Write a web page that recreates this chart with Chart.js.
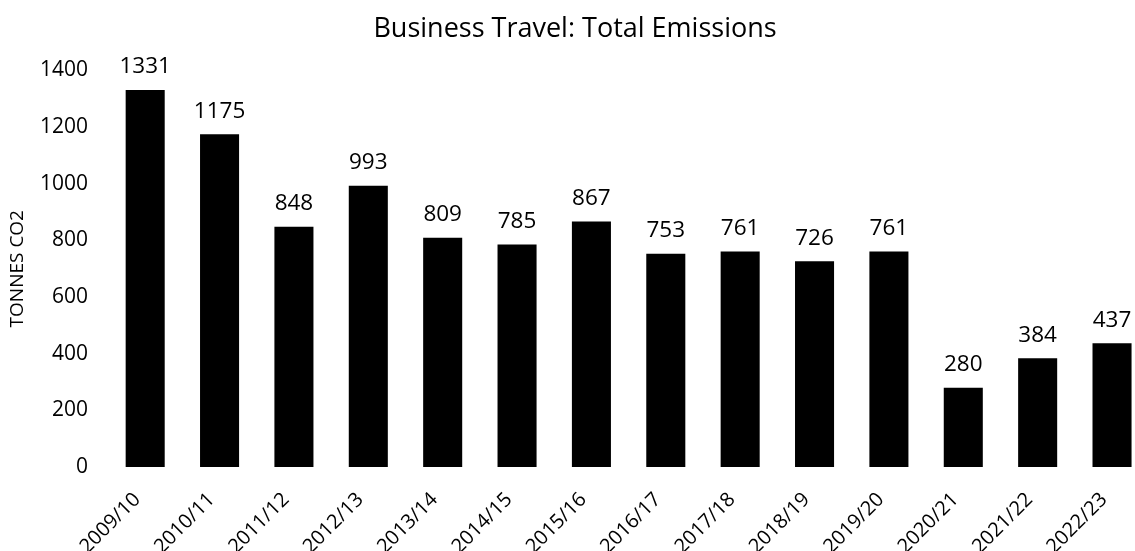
<!DOCTYPE html>
<html>
<head>
<meta charset="utf-8">
<script src="https://cdn.jsdelivr.net/npm/chart.js@4.4.1/dist/chart.umd.min.js"></script>
<style>
  html, body { margin: 0; padding: 0; background: #fff; overflow: hidden; }
  #wrap { width: 1150px; height: 551px; }
</style>
</head>
<body>
<div id="wrap"><canvas id="travelChart"></canvas></div>
<script>
// data
const years = ["2009/10", "2010/11", "2011/12", "2012/13", "2013/14", "2014/15", "2015/16",
  "2016/17", "2017/18", "2018/19", "2019/20", "2020/21", "2021/22", "2022/23"];
const emissions = [1331, 1175, 848, 993, 809, 785, 867, 753, 761, 726, 761, 280, 384, 437];
const yTicks = [0, 200, 400, 600, 800, 1000, 1200, 1400];

const fontFace = "'Open Sans', 'Noto Sans', sans-serif";

// value labels above each bar
const barLabels = {
  id: 'barLabels',
  afterDatasetsDraw(chart) {
    const ctx = chart.ctx;
    const meta = chart.getDatasetMeta(0);
    ctx.save();
    ctx.fillStyle = '#000';
    ctx.font = '22.5px ' + fontFace;
    ctx.textAlign = 'center';
    ctx.textBaseline = 'middle';
    meta.data.forEach((bar, i) => {
      ctx.fillText(String(emissions[i]), bar.x, bar.y - 23);
    });
    ctx.restore();
  }
};

const ctx = document.getElementById('travelChart').getContext('2d');
const myChart = new Chart(ctx, {
  type: 'bar',
  data: {
    labels: years,
    datasets: [{
      data: emissions,
      backgroundColor: '#000',
      borderWidth: 0,
      categoryPercentage: 1,
      barPercentage: 0.525
    }]
  },
  options: {
    responsive: true,
    maintainAspectRatio: false,
    animation: false,
    layout: { padding: 0 },
    plugins: {
      legend: { display: false },
      tooltip: { enabled: false },
      title: {
        display: true,
        text: 'Business Travel: Total Emissions',
        color: '#000',
        font: { family: fontFace, size: 27, weight: 'normal' },
        padding: { top: 13, bottom: 25 }
      }
    },
    scales: {
      x: {
        grid: { display: false, drawTicks: false },
        border: { display: false },
        ticks: {
          color: '#000',
          font: { family: fontFace, size: 20 },
          minRotation: 45,
          maxRotation: 45,
          padding: 21,
          labelOffset: -8
        },
        afterFit(scale) { scale.height = 84; }
      },
      y: {
        min: 0,
        max: 1400,
        afterBuildTicks(scale) { scale.ticks = yTicks.map(v => ({ value: v })); },
        grid: { display: false, drawTicks: false },
        border: { display: false },
        ticks: {
          color: '#000',
          font: { family: fontFace, size: 21 },
          padding: 20,
          callback: (v) => String(v)
        },
        title: {
          display: true,
          text: 'TONNES CO2',
          color: '#000',
          font: { family: fontFace, size: 19 },
          padding: { top: 6, bottom: 0 }
        },
        afterFit(scale) { scale.width = 108; }
      }
    }
  },
  plugins: [barLabels]
});
</script>
</body>
</html>
